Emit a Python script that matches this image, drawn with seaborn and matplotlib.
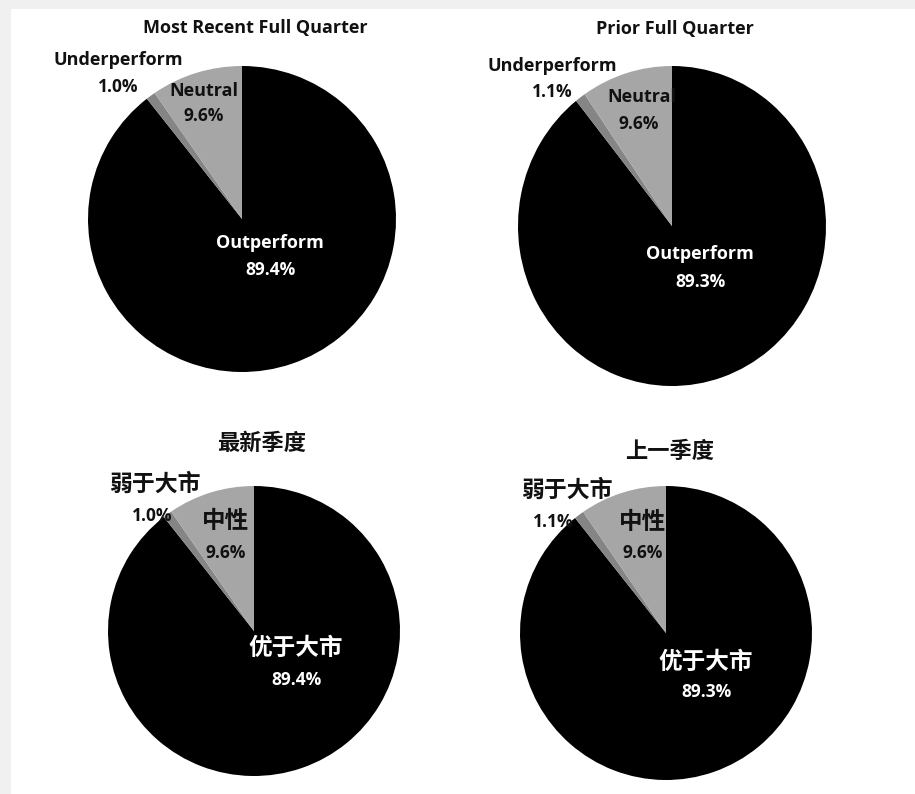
import matplotlib
matplotlib.use("Agg")
import matplotlib.pyplot as plt
from matplotlib.patches import Rectangle
import seaborn as sns

sns.set_theme(style="white")
plt.rcParams["font.family"] = ["Open Sans", "Noto Sans CJK SC", "DejaVu Sans"]

# ---- data ----
categories_en = ["Outperform", "Underperform", "Neutral"]
categories_cn = ["优于大市", "弱于大市", "中性"]
titles_en = ["Most Recent Full Quarter", "Prior Full Quarter"]
titles_cn = ["最新季度", "上一季度"]
recent_pct = [89.4, 1.0, 9.6]
prior_pct = [89.3, 1.1, 9.6]

slice_colors = ["#000000", "#858585", "#a6a6a6"]
label_colors = ["white", "#111111", "#111111"]

W, H = 915, 794
fig = plt.figure(figsize=(W / 100, H / 100), dpi=100, facecolor="#f0f0f0")
fig.patches.append(Rectangle((11 / W, 0), 1 - 11 / W, 1 - 9 / H, transform=fig.transFigure,
                             facecolor="white", edgecolor="none", zorder=-5))

# panel layout in pixels: pie box (left, top, right, bottom), title pos, label positions (name, pct) per category
panels = [
    dict(box=(88, 66, 396, 372), title=(255, 28), lang="en", vals=recent_pct, ti=0,
         pos=[((270, 243), (270, 270)), ((118, 60), (118, 87)), ((204, 91), (204, 116))]),
    dict(box=(518, 66, 826, 386), title=(675, 29), lang="en", vals=prior_pct, ti=1,
         pos=[((700, 254), (700, 282)), ((552, 66), (552, 92)), ((642, 97), (639, 124))]),
    dict(box=(108, 486, 400, 776), title=(262, 443), lang="cn", vals=recent_pct, ti=0,
         pos=[((296, 648), (296, 680)), ((155, 484), (152, 516)), ((226, 521), (226, 553))]),
    dict(box=(520, 486, 812, 780), title=(670, 452), lang="cn", vals=prior_pct, ti=1,
         pos=[((706, 662), (706, 692)), ((567, 490), (553, 522)), ((643, 522), (643, 553))]),
]


def ftext(x, y, s, **kw):
    fig.text(x / W, 1 - y / H, s, ha="center", va="center", **kw)


for p in panels:
    l, t, r, b = p["box"]
    ax = fig.add_axes([l / W, 1 - b / H, (r - l) / W, (b - t) / H])
    ax.pie(p["vals"], colors=slice_colors, startangle=90, counterclock=False,
           wedgeprops=dict(linewidth=0))
    ax.set_aspect("auto")
    ax.set_xlim(-1, 1)
    ax.set_ylim(-1, 1)
    ax.axis("off")

    if p["lang"] == "en":
        ftext(*p["title"], titles_en[p["ti"]], fontsize=13, fontweight="bold", color="#111111")
        names = categories_en
    else:
        ftext(*p["title"], titles_cn[p["ti"]], fontsize=16, fontweight="bold", color="#111111",
              family=["Noto Sans CJK SC", "DejaVu Sans"])
        names = categories_cn

    for i, (npos, vpos) in enumerate(p["pos"]):
        if p["lang"] == "en":
            # in the prior-quarter pie "Neutral" runs onto the black wedge, as in the original
            ftext(*npos, names[i], fontsize=13, fontweight="bold", color=label_colors[i])
        else:
            ftext(*npos, names[i], fontsize=17 if i != 1 else 16.5, fontweight="bold",
                  color=label_colors[i], family=["Noto Sans CJK SC", "DejaVu Sans"])
        ftext(*vpos, f"{p['vals'][i]:.1f}%", fontsize=12.5, fontweight="bold", color=label_colors[i])

fig.savefig("out.png", dpi=100, facecolor=fig.get_facecolor())
